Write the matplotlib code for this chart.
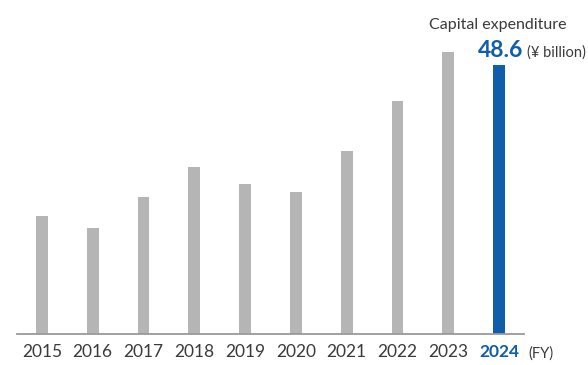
import matplotlib
matplotlib.use('Agg')
import matplotlib.pyplot as plt

years = ['2015', '2016', '2017', '2018', '2019', '2020', '2021', '2022', '2023', '2024']
capex = [21.3, 19.2, 24.8, 30.2, 27.1, 25.7, 33.1, 42.1, 51.0, 48.6]

GRAY = '#b5b5b5'
BLUE = '#0f5dab'
TEXT = '#3a3a3a'

plt.rcParams['font.family'] = ['Lato', 'DejaVu Sans']

fig = plt.figure(figsize=(5.88, 3.65), dpi=100)
ax = fig.add_axes([17 / 588, 31 / 365, 507 / 588, 314 / 365])

x = list(range(len(years)))
colors = [GRAY] * (len(years) - 1) + [BLUE]
ax.bar(x, capex, width=0.236, color=colors, zorder=2)

ax.set_xlim(-0.49, 9.49)
ax.set_ylim(0, 56.7)

for side in ['top', 'right', 'left']:
    ax.spines[side].set_visible(False)
ax.spines['bottom'].set_color('#9a9a9a')
ax.spines['bottom'].set_linewidth(1.3)
ax.set_yticks([])
ax.set_xticks(x)
ax.set_xticklabels(years, fontsize=12.5, color=TEXT)
ax.tick_params(axis='x', length=0, pad=7.5)
last = ax.get_xticklabels()[-1]
last.set_color(BLUE)
last.set_fontweight('bold')

ax.text(9.57, -0.077, '(FY)', transform=ax.get_xaxis_transform(),
        fontsize=10.5, color=TEXT, ha='left', va='baseline')

# callout over the latest bar
ax.annotate(f'{capex[-1]:.1f}', xy=(x[-1], capex[-1]), xytext=(24, 8),
            textcoords='offset pixels', ha='right', va='baseline',
            fontsize=16.5, fontweight='bold', color=BLUE)
ax.annotate('(¥ billion)', xy=(x[-1], capex[-1]), xytext=(28, 8),
            textcoords='offset pixels', ha='left', va='baseline',
            fontsize=10.5, color=TEXT)
ax.annotate('Capital expenditure', xy=(x[-1], capex[-1]), xytext=(-1, 36),
            textcoords='offset pixels', ha='center', va='baseline',
            fontsize=11.5, color=TEXT)

fig.savefig('out.png', dpi=100)
